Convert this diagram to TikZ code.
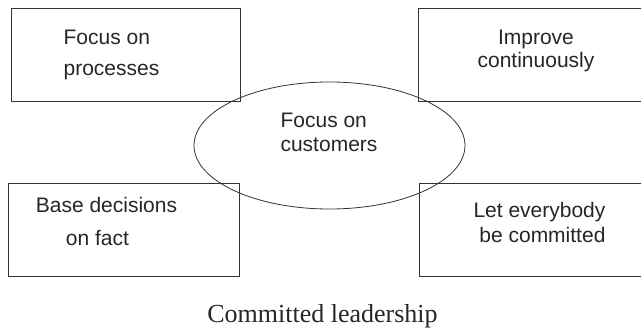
\documentclass[tikz,border=0pt]{standalone}
\usepackage{fontspec}
\setmainfont{Liberation Sans}
\newfontfamily\capserif{Liberation Serif}
\usetikzlibrary{shapes.geometric}
\begin{document}
\begin{tikzpicture}[x=1pt,y=-1pt,
  box/.style={draw=black!80,line width=0.8pt,rectangle,inner sep=0pt},
  lbl/.style={inner sep=0pt,text=black!85},
  oval/.style={draw=black!80,line width=0.8pt,ellipse,inner sep=0pt,minimum width=271pt,minimum height=127pt}]
\useasboundingbox (0,0) rectangle (641,329);
% boxes
\node[box,minimum width=229pt,minimum height=93pt] (tl) at (125.5,54.5) {};
\node[box,minimum width=230pt,minimum height=93pt] (tr) at (533,54.5) {};
\node[box,minimum width=231pt,minimum height=93pt] (bl) at (123.5,229.5) {};
\node[box,minimum width=229pt,minimum height=93pt] (br) at (533.5,229.5) {};
% central ellipse
\node[oval] (e) at (329.5,145.5) {};
% texts
\node[lbl,align=left,font=\fontsize{21}{31}\selectfont] (ttl) at (111.5,55) {Focus on\\processes};
\node[lbl,align=center,font=\fontsize{21}{23}\selectfont] (ttr) at (536,51) {Improve\\continuously};
\node[lbl,align=left,font=\fontsize{21}{33}\selectfont] (tbl) at (106.5,221) {Base decisions\\\hspace*{30pt}on fact};
\node[lbl,align=right,font=\fontsize{21}{25}\selectfont] (tbr) at (539.5,222) {Let everybody\\be committed};
\node[lbl,align=left,font=\fontsize{21}{24}\selectfont] (te) at (329,132.5) {Focus on\\customers};
\node[lbl,anchor=base,font=\capserif\fontsize{26}{30}\selectfont] (cap) at (322.5,322.5) {Committed leadership};
\end{tikzpicture}
\end{document}
